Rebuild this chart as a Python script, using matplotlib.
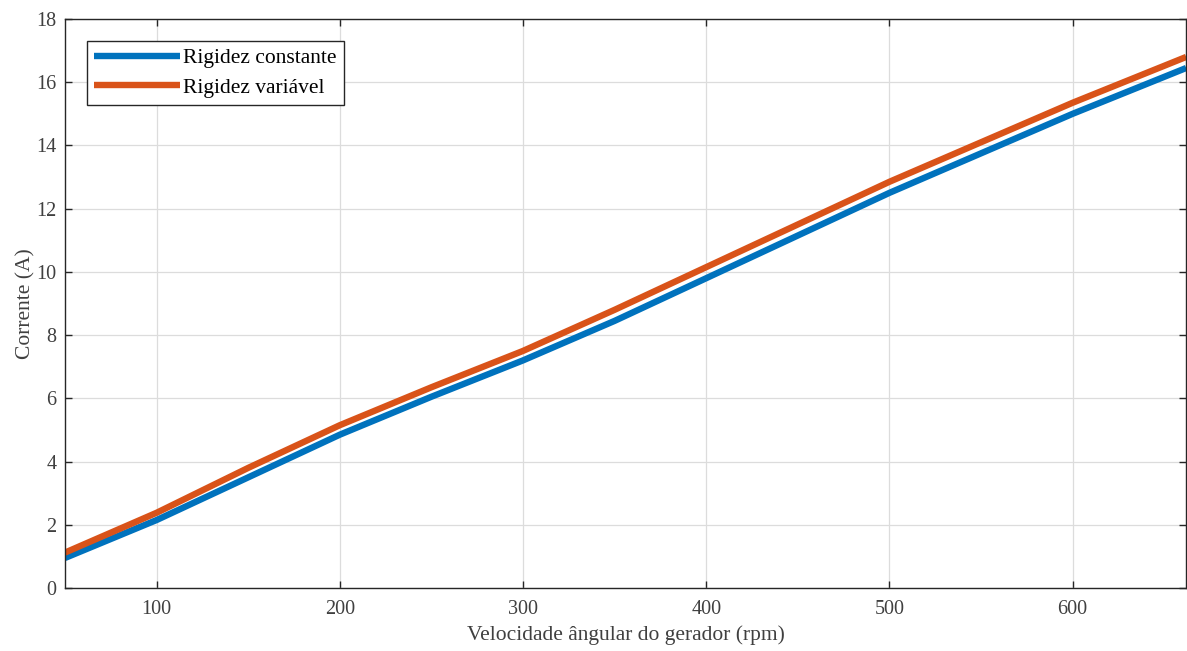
import numpy as np
import matplotlib
matplotlib.use("Agg")
import matplotlib.pyplot as plt

# rotor speed (rpm) and generator current (A) for both stiffness models
rpm = [50, 100, 150, 200, 250, 300, 350, 400, 450, 500, 550, 600, 662]
i_const = [0.95, 2.15, 3.50, 4.85, 6.05, 7.20, 8.45, 9.80, 11.15, 12.50, 13.75, 15.00, 16.45]
i_var = [1.12, 2.38, 3.80, 5.15, 6.35, 7.50, 8.80, 10.15, 11.50, 12.85, 14.10, 15.35, 16.80]

x_ticks = [100, 200, 300, 400, 500, 600]
y_ticks = [0, 2, 4, 6, 8, 10, 12, 14, 16, 18]

plt.rcParams["font.family"] = ["Liberation Serif", "DejaVu Serif"]
axis_col = "#262626"

fig = plt.figure(figsize=(11.87, 6.51), dpi=100)
ax = fig.add_axes([0.0548, 0.0968, 0.9445, 0.874])

ax.plot(rpm, i_const, color="#0072BD", lw=4.6, label="Rigidez constante", solid_capstyle="butt")
ax.plot(rpm, i_var, color="#D95319", lw=4.6, label="Rigidez variável", solid_capstyle="butt")

ax.set_xlim(50, 662)
ax.set_ylim(0, 18)
ax.set_xticks(x_ticks)
ax.set_yticks(y_ticks)
ax.grid(True, color="#dcdcdc", lw=0.9)
ax.set_axisbelow(True)
ax.tick_params(direction="in", length=5, width=1, colors=axis_col,
               labelsize=14.5, top=True, right=True, labelcolor="#404040")
ax.tick_params(axis="x", pad=9)
ax.tick_params(axis="y", pad=6)
for s in ax.spines.values():
    s.set_color(axis_col)
    s.set_linewidth(1.0)

ax.set_xlabel("Velocidade ângular do gerador (rpm)", fontsize=15.5, color="#404040", labelpad=4)
ax.set_ylabel("Corrente (A)", fontsize=15.5, color="#404040", labelpad=1)

leg = ax.legend(loc="upper left", fontsize=15.5, fancybox=False, framealpha=1,
                edgecolor=axis_col, handlelength=4.0, handletextpad=0.15,
                borderaxespad=1.0, labelspacing=0.45, borderpad=0.35)
leg.get_frame().set_linewidth(1.0)

fig.savefig("out.png", dpi=100, facecolor="white")
